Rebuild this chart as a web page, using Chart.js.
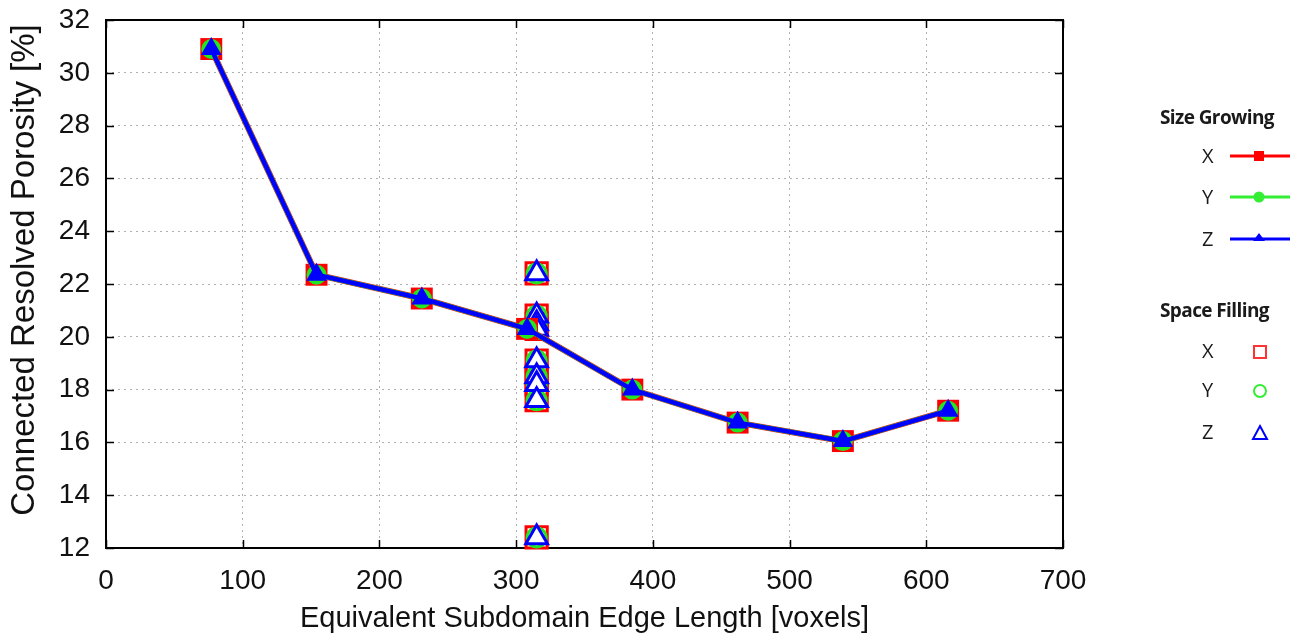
<!DOCTYPE html>
<html><head><meta charset="utf-8">
<script src="https://cdn.jsdelivr.net/npm/chart.js@4.4.1/dist/chart.umd.min.js"></script>
<style>
html,body{margin:0;padding:0;background:#fff;}
#wrap{position:relative;width:1306px;height:639px;overflow:hidden;}
#c{position:absolute;left:0;top:0;}
.lt{position:absolute;font-family:'Open Sans',sans-serif;font-weight:700;font-size:19px;color:#1a1a1a;letter-spacing:-0.6px;white-space:nowrap;line-height:22px;}
.ll{position:absolute;font-family:'Open Sans',sans-serif;font-size:20px;color:#1a1a1a;line-height:22px;}
svg{position:absolute;}
</style></head><body>
<div id="wrap">
<canvas id="c" width="1306" height="639"></canvas>
<div class="lt" style="left:1160px;top:106px;">Size Growing</div>
<div class="ll" style="left:1202px;top:145px;">X</div>
<div class="ll" style="left:1202px;top:186px;">Y</div>
<div class="ll" style="left:1202px;top:228px;">Z</div>
<svg style="left:1229px;top:148px" width="62" height="16"><line x1="1" y1="8" x2="61" y2="8" stroke="#ff0000" stroke-width="3"/><rect x="25" y="3" width="10" height="10" fill="#ff0000"/></svg>
<svg style="left:1229px;top:189px" width="62" height="16"><line x1="1" y1="8" x2="61" y2="8" stroke="#33ee33" stroke-width="3"/><circle cx="30" cy="8" r="5.5" fill="#33ee33"/></svg>
<svg style="left:1229px;top:231px" width="62" height="16"><line x1="1" y1="8" x2="61" y2="8" stroke="#0000ff" stroke-width="3"/><polygon points="30,2 36,10 24,10" fill="#0000ff"/></svg>
<div class="lt" style="left:1160px;top:299px;">Space Filling</div>
<div class="ll" style="left:1202px;top:340px;">X</div>
<div class="ll" style="left:1202px;top:379px;">Y</div>
<div class="ll" style="left:1202px;top:421px;">Z</div>
<svg style="left:1250px;top:342px" width="20" height="20"><rect x="4" y="4" width="12" height="12" fill="none" stroke="#ff3333" stroke-width="2"/></svg>
<svg style="left:1250px;top:381px" width="20" height="20"><circle cx="10" cy="10" r="6" fill="none" stroke="#33ee33" stroke-width="2"/></svg>
<svg style="left:1250px;top:423px" width="20" height="20"><polygon points="10,3 17,16 3,16" fill="none" stroke="#0000ff" stroke-width="2"/></svg>
</div>
<script>
// ---- data ----
const sizeGrowingEdge = [77, 154, 231, 308, 385, 462, 539, 616];
const sizeGrowingPorosity = [30.9, 22.35, 21.45, 20.3, 18.0, 16.75, 16.05, 17.2];
const spaceFillingEdge = [315, 315, 315, 315, 315, 315, 315, 315, 315];
const spaceFillingPorosity = [22.4, 20.8, 20.5, 20.3, 19.1, 18.5, 18.2, 17.6, 12.4];
const xTickValues = [0, 100, 200, 300, 400, 500, 600, 700];
const yTickValues = [12, 14, 16, 18, 20, 22, 24, 26, 28, 30, 32];
const xTitle = 'Equivalent Subdomain Edge Length [voxels]';
const yTitle = 'Connected Resolved Porosity [%]';

const RED = '#ff0000', GREEN = '#22e622', BLUE = '#0000ff';

function pts(xs, ys) { return xs.map((x, i) => ({x: x, y: ys[i]})); }

const frame = {
  id: 'frame',
  beforeDatasetsDraw(chart) {
    const {ctx, chartArea: a, scales} = chart;
    ctx.save();
    ctx.strokeStyle = '#000';
    ctx.lineWidth = 1.5;
    const L = 8;
    ctx.beginPath();
    xTickValues.forEach(v => {
      const px = Math.round(scales.x.getPixelForValue(v)) + 0.5;
      ctx.moveTo(px, a.bottom); ctx.lineTo(px, a.bottom - L);
      ctx.moveTo(px, a.top); ctx.lineTo(px, a.top + L);
    });
    yTickValues.forEach(v => {
      const py = Math.round(scales.y.getPixelForValue(v)) + 0.5;
      ctx.moveTo(a.left, py); ctx.lineTo(a.left + L, py);
      ctx.moveTo(a.right, py); ctx.lineTo(a.right - L, py);
    });
    ctx.stroke();
    ctx.lineWidth = 2;
    ctx.strokeRect(a.left, a.top, a.right - a.left, a.bottom - a.top);
    // y axis title
    ctx.translate(25, 270);
    ctx.rotate(-Math.PI / 2);
    ctx.fillStyle = '#111';
    ctx.font = "33px 'Liberation Sans', Arial, sans-serif";
    ctx.textAlign = 'center';
    ctx.textBaseline = 'middle';
    ctx.fillText(yTitle, 0, 0);
    ctx.restore();
  }
};

new Chart(document.getElementById('c'), {
  type: 'scatter',
  data: {
    datasets: [
      {label: 'Size Growing Z', data: pts(sizeGrowingEdge, sizeGrowingPorosity), showLine: true,
        borderColor: BLUE, backgroundColor: BLUE, borderWidth: 4.5, pointStyle: 'triangle', pointRadius: 12,
        pointBorderWidth: 0, pointBackgroundColor: BLUE, order: 0, clip: false},
      {label: 'Size Growing Y', data: pts(sizeGrowingEdge, sizeGrowingPorosity), showLine: true,
        borderColor: GREEN, backgroundColor: GREEN, borderWidth: 5, pointStyle: 'circle', pointRadius: 10,
        pointBorderWidth: 0, pointBackgroundColor: GREEN, order: 1, clip: false},
      {label: 'Size Growing X', data: pts(sizeGrowingEdge, sizeGrowingPorosity), showLine: true,
        borderColor: RED, backgroundColor: RED, borderWidth: 6, pointStyle: 'rect', pointRadius: 15.5,
        pointBorderWidth: 0, pointBackgroundColor: RED, order: 2, clip: false},
      {label: 'Space Filling Z', data: pts(spaceFillingEdge, spaceFillingPorosity), showLine: false,
        borderColor: BLUE, pointStyle: 'triangle', pointRadius: 12.5, pointBorderWidth: 3,
        pointBorderColor: BLUE, pointBackgroundColor: '#fff', order: 3, clip: false},
      {label: 'Space Filling Y', data: pts(spaceFillingEdge, spaceFillingPorosity), showLine: false,
        borderColor: GREEN, pointStyle: 'circle', pointRadius: 9.5, pointBorderWidth: 3,
        pointBorderColor: GREEN, pointBackgroundColor: 'rgba(0,0,0,0)', order: 4, clip: false},
      {label: 'Space Filling X', data: pts(spaceFillingEdge, spaceFillingPorosity), showLine: false,
        borderColor: RED, pointStyle: 'rect', pointRadius: 15, pointBorderWidth: 3,
        pointBorderColor: RED, pointBackgroundColor: 'rgba(0,0,0,0)', order: 5, clip: false}
    ]
  },
  options: {
    responsive: false,
    animation: false,
    layout: {padding: {left: 0, top: 20, right: 243, bottom: 0}},
    plugins: {legend: {display: false}, tooltip: {enabled: false}},
    scales: {
      x: {
        type: 'linear', min: 0, max: 700,
        afterBuildTicks: s => { s.ticks = xTickValues.map(v => ({value: v})); },
        afterFit: s => { s.height = 91; s.paddingLeft = 0; s.paddingRight = 0; },
        ticks: {color: '#111', padding: 16, font: {family: "'Liberation Sans', Arial, sans-serif", size: 28}},
        grid: {color: '#b0b0b0', lineWidth: 1, drawTicks: false},
        border: {display: false, dash: [2, 4]},
        title: {display: true, text: xTitle, color: '#111', padding: {top: 0, bottom: 3},
          font: {family: "'Liberation Sans', Arial, sans-serif", size: 29}}
      },
      y: {
        type: 'linear', min: 12, max: 32,
        afterBuildTicks: s => { s.ticks = yTickValues.map(v => ({value: v})); },
        afterFit: s => { s.width = 106; s.paddingTop = 0; s.paddingBottom = 0; },
        ticks: {color: '#111', padding: 16, font: {family: "'Liberation Sans', Arial, sans-serif", size: 28}},
        grid: {color: '#b0b0b0', lineWidth: 1, drawTicks: false},
        border: {display: false, dash: [2, 4]},
        title: {display: false, text: yTitle}
      }
    }
  },
  plugins: [frame]
});
</script>
</body></html>
